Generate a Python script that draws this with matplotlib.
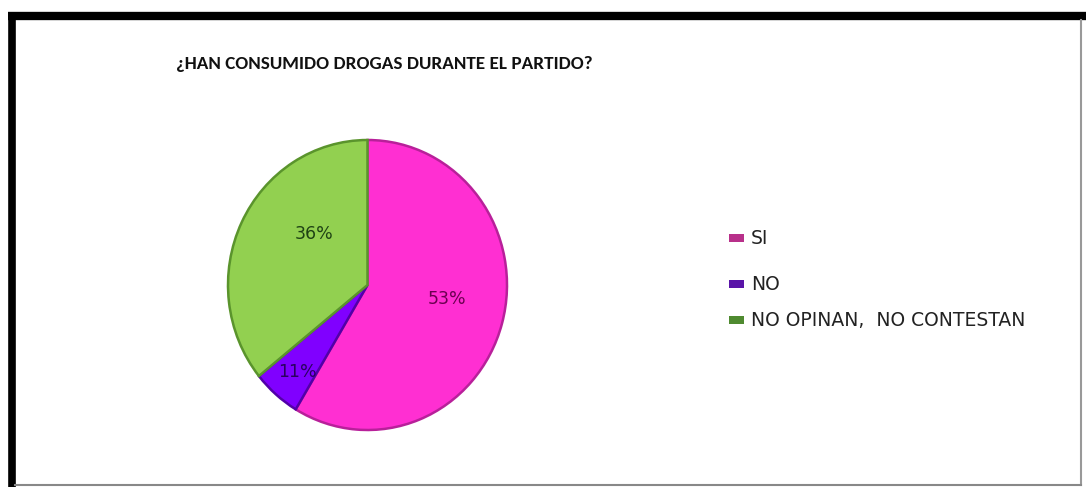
import matplotlib
matplotlib.use('Agg')
import matplotlib.pyplot as plt
import matplotlib.patches as mpatches
from matplotlib.lines import Line2D
import numpy as np

# data (wedge sizes as drawn, labels as printed)
categories = ['SI', 'NO', 'NO OPINAN,  NO CONTESTAN']
values = [58.6, 5.6, 35.8]
pct_labels = ['53%', '11%', '36%']
colors = ['#FF2FD2', '#8000FF', '#92D050']
edge_colors = ['#B8209A', '#5200A8', '#5A942C']
legend_colors = ['#B8308A', '#5A14A8', '#4F8A30']
label_colors = ['#6A0050', '#2A0060', '#1E4214']

W, H = 1086, 487
fig = plt.figure(figsize=(W / 100, H / 100), dpi=100)
fig.patch.set_facecolor('white')


def fx(px):
    return px / W


def fy(py):
    return 1 - py / H


# pie axes, box in pixels: x 228-507, y 140-430
ax = fig.add_axes([fx(228), fy(430), fx(507) - fx(228), (430 - 140) / H])
wedges, _ = ax.pie(values, colors=colors, startangle=90, counterclock=False,
                   radius=1.0, wedgeprops=dict(linewidth=1.8))
for w, ec in zip(wedges, edge_colors):
    w.set_edgecolor(ec)
ax.set_aspect('auto')
ax.set_xlim(-1.0, 1.0)
ax.set_ylim(-1.0, 1.0)
ax.axis('off')

# percentage labels (positions like the original's best-fit placement)
lab_pos = [(0.57, -0.1), (-0.5, -0.6), (-0.38, 0.35)]
for (x, y), t, c in zip(lab_pos, pct_labels, label_colors):
    ax.text(x, y, t, ha='center', va='center', fontsize=12.5,
            color=c, family='DejaVu Sans')

# title
fig.text(fx(384), fy(64), '¿HAN CONSUMIDO DROGAS DURANTE EL PARTIDO?',
         ha='center', va='center', fontsize=13.8, fontweight='bold',
         family=['Carlito', 'Asap Condensed', 'Lato'], color='#111111')

# legend drawn by hand (uneven row spacing in the original)
rows_y = [238, 284, 320]
for cat, lc, yy in zip(categories, legend_colors, rows_y):
    fig.patches.append(mpatches.Rectangle((fx(729), fy(yy + 4)), fx(744) - fx(729),
                                          8 / H, transform=fig.transFigure,
                                          facecolor=lc, edgecolor='none'))
    fig.text(fx(751), fy(yy), cat, ha='left', va='center', fontsize=13.5,
             family='DejaVu Sans', color='#222222')

# frame: thick black top/left, thin grey right/bottom
fig.lines.append(Line2D([fx(8), fx(1086)], [fy(16), fy(16)], transform=fig.transFigure,
                        color='black', linewidth=6, solid_capstyle='butt'))
fig.lines.append(Line2D([fx(11.5), fx(11.5)], [fy(12), fy(487)], transform=fig.transFigure,
                        color='black', linewidth=5.5, solid_capstyle='butt'))
fig.lines.append(Line2D([fx(1081), fx(1081)], [fy(20), fy(485)], transform=fig.transFigure,
                        color='#999999', linewidth=1.5))
fig.lines.append(Line2D([fx(15), fx(1081)], [fy(485), fy(485)], transform=fig.transFigure,
                        color='#888888', linewidth=1.5))

fig.savefig('out.png', dpi=100, facecolor='white')
